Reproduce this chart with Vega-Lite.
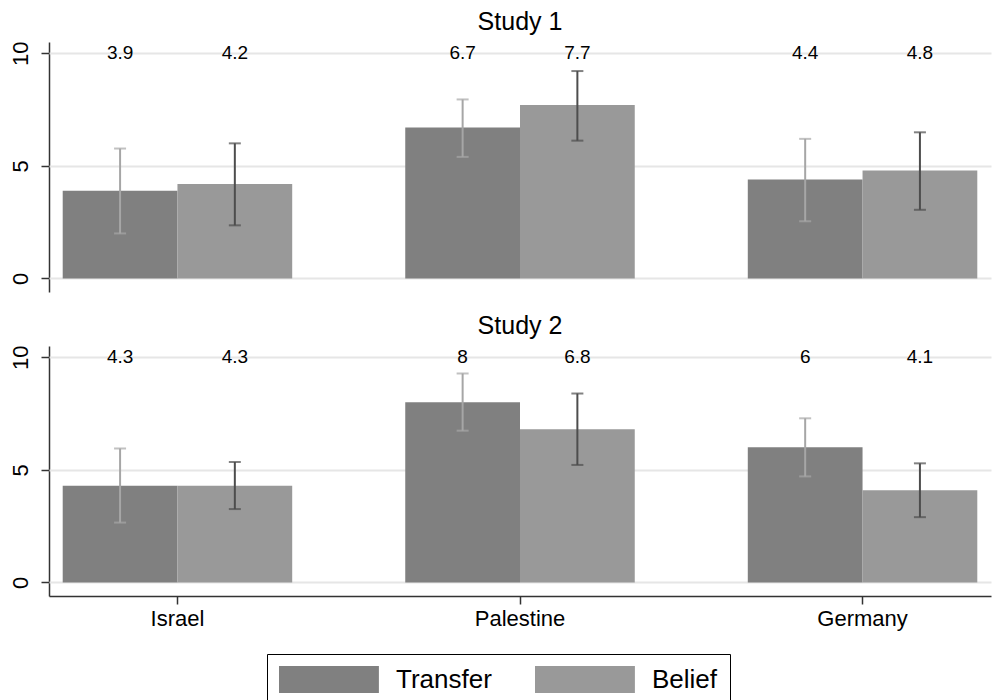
{
  "$schema": "https://vega.github.io/schema/vega-lite/v6.json",
  "padding": {"left": 8, "top": 10, "right": 5, "bottom": 5},
  "data": {"values": [
    {"study": "Study 1", "country": "Israel", "type": "Transfer", "value": 3.9, "lo": 2.0, "hi": 5.77},
    {"study": "Study 1", "country": "Israel", "type": "Belief", "value": 4.2, "lo": 2.36, "hi": 6.0},
    {"study": "Study 1", "country": "Palestine", "type": "Transfer", "value": 6.7, "lo": 5.4, "hi": 7.95},
    {"study": "Study 1", "country": "Palestine", "type": "Belief", "value": 7.7, "lo": 6.12, "hi": 9.21},
    {"study": "Study 1", "country": "Germany", "type": "Transfer", "value": 4.4, "lo": 2.54, "hi": 6.2},
    {"study": "Study 1", "country": "Germany", "type": "Belief", "value": 4.8, "lo": 3.05, "hi": 6.49},
    {"study": "Study 2", "country": "Israel", "type": "Transfer", "value": 4.3, "lo": 2.66, "hi": 5.95},
    {"study": "Study 2", "country": "Israel", "type": "Belief", "value": 4.3, "lo": 3.26, "hi": 5.35},
    {"study": "Study 2", "country": "Palestine", "type": "Transfer", "value": 8.0, "lo": 6.74, "hi": 9.28},
    {"study": "Study 2", "country": "Palestine", "type": "Belief", "value": 6.8, "lo": 5.22, "hi": 8.39},
    {"study": "Study 2", "country": "Germany", "type": "Transfer", "value": 6.0, "lo": 4.71, "hi": 7.29},
    {"study": "Study 2", "country": "Germany", "type": "Belief", "value": 4.1, "lo": 2.9, "hi": 5.29}
  ]},
  "facet": {
    "field": "study", "type": "nominal",
    "header": {"title": null, "labelFontSize": 25, "labelFont": "Liberation Sans", "labelColor": "black", "labelPadding": 7}
  },
  "columns": 1,
  "spacing": 22,
  "spec": {
    "width": 942,
    "height": 250,
    "encoding": {
      "x": {
        "field": "country", "type": "nominal", "sort": ["Israel", "Palestine", "Germany"],
        "scale": {"paddingInner": 0.33, "paddingOuter": 0.04},
        "axis": {"title": null, "labelAngle": 0, "labelFontSize": 22, "labelFont": "Liberation Sans", "labelColor": "black",
                 "domainColor": "#333333", "domainWidth": 1.5, "tickColor": "#333333", "tickWidth": 1.5, "tickSize": 8, "labelPadding": 4, "grid": false}
      },
      "xOffset": {"field": "type", "type": "nominal", "sort": ["Transfer", "Belief"], "scale": {"paddingInner": 0, "paddingOuter": 0}}
    },
    "layer": [
      {
        "mark": {"type": "bar"},
        "encoding": {
          "y": {"field": "value", "type": "quantitative",
                "scale": {"domain": [-0.6, 10.5], "nice": false, "zero": false},
                "axis": {"title": null, "values": [0, 5, 10], "labelAngle": 270, "labelAlign": "center", "labelBaseline": "alphabetic",
                         "labelFontSize": 22, "labelFont": "Liberation Sans", "labelColor": "black", "labelPadding": 14,
                         "grid": true, "gridColor": "#e6e6e6", "gridWidth": 2,
                         "domainColor": "#333333", "domainWidth": 1.5, "tickColor": "#333333", "tickWidth": 1.5, "tickSize": 8}},
          "y2": {"datum": 0},
          "color": {"field": "type", "type": "nominal",
                    "scale": {"domain": ["Transfer", "Belief"], "range": ["#808080", "#999999"]},
                    "legend": {"title": null, "orient": "none", "legendX": 218, "legendY": 612, "direction": "horizontal",
                               "symbolType": "M-1,-1H6.4V1H-1Z", "symbolSize": 729, "symbolStrokeWidth": 0,
                               "labelFontSize": 26, "labelFont": "Liberation Sans", "labelColor": "black",
                               "labelOffset": 90, "columnPadding": 43, "padding": 12, "strokeColor": "black"}}
        }
      },
      {
        "mark": {"type": "rule", "strokeWidth": 2},
        "encoding": {
          "y": {"field": "lo", "type": "quantitative"},
          "y2": {"field": "hi"},
          "color": {"condition": {"test": "datum.type === 'Transfer'", "value": "#a6a6a6"}, "value": "#4d4d4d"}
        }
      },
      {
        "mark": {"type": "tick", "size": 12, "thickness": 2},
        "encoding": {
          "y": {"field": "lo", "type": "quantitative"},
          "color": {"condition": {"test": "datum.type === 'Transfer'", "value": "#a6a6a6"}, "value": "#4d4d4d"}
        }
      },
      {
        "mark": {"type": "tick", "size": 12, "thickness": 2},
        "encoding": {
          "y": {"field": "hi", "type": "quantitative"},
          "color": {"condition": {"test": "datum.type === 'Transfer'", "value": "#a6a6a6"}, "value": "#4d4d4d"}
        }
      },
      {
        "mark": {"type": "text", "fontSize": 19, "font": "Liberation Sans", "color": "black", "baseline": "middle"},
        "encoding": {
          "y": {"datum": 10},
          "text": {"field": "value", "type": "quantitative"}
        }
      }
    ]
  },
  "config": {"view": {"stroke": null}}
}
